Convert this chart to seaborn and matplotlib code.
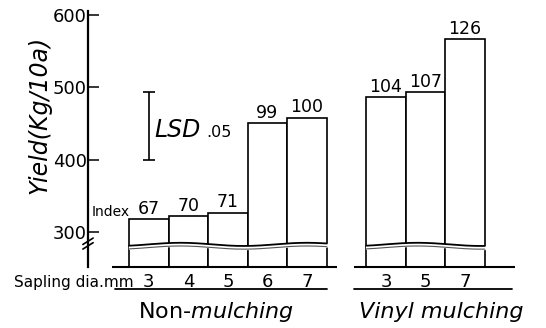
import numpy as np
import pandas as pd
import matplotlib
matplotlib.use("Agg")
import matplotlib.pyplot as plt
import seaborn as sns

# ---- data ----
groups = ["Non-mulching", "Vinyl mulching"]
non_dia = ["3", "4", "5", "6", "7"]
non_yield = [318, 322, 327, 450, 458]
non_index = [67, 70, 71, 99, 100]
vin_dia = ["3", "5", "7"]
vin_yield = [486, 493, 566]
vin_index = [104, 107, 126]
y_ticks = [300, 400, 500, 600]
lsd_low, lsd_high = 400, 493

sns.set_theme(style="white")
plt.rcParams["font.family"] = ["DejaVu Sans"]
plt.rcParams["mathtext.fontset"] = "dejavusans"
plt.rcParams["text.color"] = "black"

non_keys = [f"N{d}" for d in non_dia]
vin_keys = [f"V{d}" for d in vin_dia]
order = non_keys + ["gap"] + vin_keys
df = pd.DataFrame({"key": non_keys + vin_keys,
                   "yield": non_yield + vin_yield})

W, H = 546, 328
fig = plt.figure(figsize=(W / 100, H / 100), dpi=100)
ax = fig.add_axes([88 / W, 61 / H, 428 / W, 256 / H])

sns.barplot(data=df, x="key", y="yield", order=order, width=1.0,
            color="white", saturation=1, edgecolor="black", linewidth=1.2,
            ax=ax, errorbar=None)

ymin, ymax = 252, 605
ax.set_ylim(ymin, ymax)
ax.set_xlim(-1.54, 9.29)
ax.set_xlabel("")
ax.set_ylabel("")
ax.set_xticks([])
ax.set_yticks(y_ticks)
ax.tick_params(axis="y", direction="in", length=8, width=1.1, pad=1,
               labelsize=13, colors="black", labelcolor="black", left=True)
for s in ["top", "right", "bottom"]:
    ax.spines[s].set_visible(False)
ax.spines["left"].set_color("black")
ax.spines["left"].set_linewidth(1.6)

# index labels above the bars
ax.bar_label(ax.containers[0], labels=[str(v) for v in non_index + vin_index],
             padding=1, fontsize=12.5, color="black")

pos_non = [order.index(k) for k in non_keys]
pos_vin = [order.index(k) for k in vin_keys]

# baselines and under-label lines
xt = ax.get_xaxis_transform()
ax.hlines(ymin, pos_non[0] - 0.94, pos_non[-1] + 0.76, color="black", lw=1.5, clip_on=False)
ax.hlines(ymin, pos_vin[0] - 0.8, pos_vin[-1] + 1.27, color="black", lw=1.5, clip_on=False)
ax.plot([pos_non[0] - 0.86, pos_non[-1] + 0.5], [-0.086, -0.086], transform=xt,
        color="black", lw=1.3, clip_on=False)
ax.plot([pos_vin[0] - 0.8, pos_vin[-1] + 1.2], [-0.086, -0.086], transform=xt,
        color="black", lw=1.3, clip_on=False)

# x tick labels (diameters)
for p, d in zip(pos_non + pos_vin, non_dia + vin_dia):
    ax.text(p, -0.058, d, transform=xt, ha="center", va="center", fontsize=13)

# break lines across the bars
ybrk = 281
for pos in (pos_non, pos_vin):
    xs = np.linspace(pos[0] - 0.5, pos[-1] + 0.5, 200)
    wave = 2.2 * np.sin((xs - pos[0]) * np.pi / 1.6)
    ax.fill_between(xs, ybrk - 2 + wave, ybrk + 2 + wave, color="white", zorder=5)
    ax.plot(xs, ybrk + 2.2 + wave, color="black", lw=1.3, zorder=6)
    ax.plot(xs, ybrk - 2.2 + wave, color="#555555", lw=0.8, zorder=6)

# y-axis break mark
ta = ax.transAxes
for dy in (0.0, 0.018):
    ax.plot([-0.012, 0.012], [0.07 + dy, 0.095 + dy], transform=ta,
            color="black", lw=1.2, clip_on=False)

# LSD bar
lsd_x = pos_non[0]
ax.errorbar([lsd_x], [(lsd_low + lsd_high) / 2], yerr=[(lsd_high - lsd_low) / 2],
            fmt="none", ecolor="black", elinewidth=1.2, capsize=4, capthick=1.2)
ax.text(lsd_x + 0.14, 441, "LSD", style="italic", fontsize=17, ha="left", va="center")
ax.text(lsd_x + 1.45, 437, ".05", fontsize=11.5, ha="left", va="center")

# other labels
fig.text(92 / W, 1 - 212 / H, "Index", fontsize=10, ha="left", va="center")
fig.text(14 / W, 1 - 282 / H, "Sapling dia.mm", fontsize=11, ha="left", va="center")
fig.text(216 / W, 1 - 312 / H, r"Non-$\mathit{mulching}$", fontsize=16,
         ha="center", va="center")
fig.text(441 / W, 1 - 312 / H, "Vinyl mulching", style="italic", fontsize=16,
         ha="center", va="center")
fig.text(40 / W, 1 - 115 / H, "Yield(Kg/10a)", style="italic", rotation=90,
         fontsize=17, ha="center", va="center")

fig.savefig("out.png", dpi=100, facecolor="white")
